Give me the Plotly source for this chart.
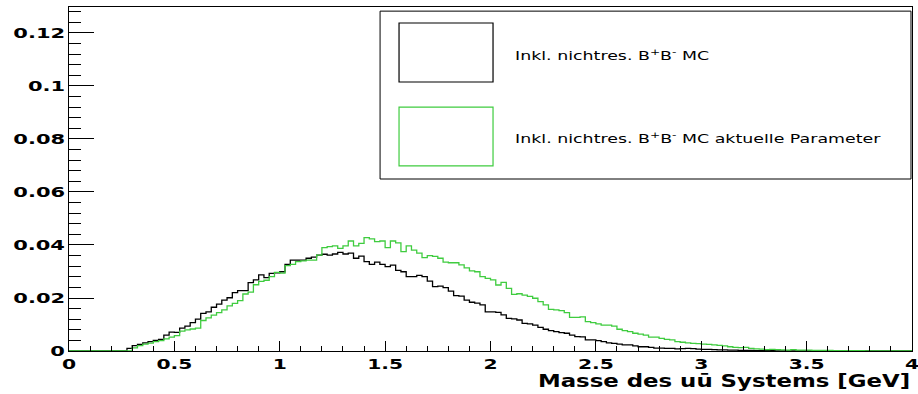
import numpy as np
import plotly.graph_objects as go

# histogram binning: 160 bins from 0 to 4 GeV
x_lo = 0.0
x_hi = 4.0
n_bins = 160

# Inkl. nichtres. B+B- MC (black)
black = [
    0, 0, 0, 0, 0, 0, 0, 0, 0, 0,
    0, 0.0010, 0.0020, 0.0025, 0.0031, 0.0035, 0.0040, 0.0044, 0.0060, 0.0071,
    0.0070, 0.0086, 0.0094, 0.0107, 0.0120, 0.0142, 0.0148, 0.0165, 0.0177, 0.0192,
    0.0201, 0.0220, 0.0228, 0.0228, 0.0258, 0.0268, 0.0287, 0.0277, 0.0293, 0.0295,
    0.0299, 0.0327, 0.0343, 0.0343, 0.0343, 0.0350, 0.0354, 0.0362, 0.0365, 0.0362,
    0.0366, 0.0372, 0.0366, 0.0369, 0.0350, 0.0358, 0.0337, 0.0327, 0.0335, 0.0327,
    0.0318, 0.0324, 0.0304, 0.0299, 0.0281, 0.0281, 0.0285, 0.0281, 0.0264, 0.0243,
    0.0245, 0.0239, 0.0226, 0.0209, 0.0207, 0.0192, 0.0184, 0.0181, 0.0174, 0.0148,
    0.0148, 0.0146, 0.0136, 0.0123, 0.0121, 0.0117, 0.0104, 0.0102, 0.0098, 0.0089,
    0.0082, 0.0077, 0.0073, 0.0069, 0.0067, 0.0060, 0.0054, 0.0053, 0.0042, 0.0042,
    0.0039, 0.0035, 0.0031, 0.0029, 0.0026, 0.0023, 0.0023, 0.0019, 0.0016, 0.0016,
    0.0014, 0.0011, 0.0011, 0.0010, 0.0010, 0.0008, 0.0009, 0.0010, 0.0009, 0.0007,
    0.0006, 0.0006, 0.0005, 0.0004, 0.0004, 0.0003, 0.0003, 0.0002, 0.0002, 0.0002,
    0.0001, 0.0001, 0.0001, 0.0001, 0.00005, 0.00005, 0.00005, 0.00005, 0.00005, 0.00005,
    0, 0, 0, 0, 0, 0, 0, 0, 0, 0,
    0, 0, 0, 0, 0, 0, 0, 0, 0, 0,
]

# Inkl. nichtres. B+B- MC aktuelle Parameter (green)
green = [
    0, 0, 0, 0, 0, 0, 0, 0, 0, 0,
    0, 0, 0.0012, 0.0020, 0.0026, 0.0030, 0.0035, 0.0039, 0.0046, 0.0052,
    0.0058, 0.0075, 0.0080, 0.0083, 0.0086, 0.0115, 0.0125, 0.0135, 0.0145, 0.0155,
    0.0170, 0.0180, 0.0190, 0.0215, 0.0222, 0.0250, 0.0263, 0.0267, 0.0281, 0.0297,
    0.0294, 0.0322, 0.0327, 0.0337, 0.0340, 0.0343, 0.0343, 0.0362, 0.0390, 0.0394,
    0.0397, 0.0387, 0.0397, 0.0415, 0.0397, 0.0406, 0.0428, 0.0423, 0.0413, 0.0415,
    0.0390, 0.0415, 0.0408, 0.0375, 0.0397, 0.0381, 0.0369, 0.0352, 0.0360, 0.0357,
    0.0350, 0.0335, 0.0333, 0.0333, 0.0325, 0.0314, 0.0302, 0.0299, 0.0281, 0.0274,
    0.0268, 0.0249, 0.0259, 0.0236, 0.0214, 0.0216, 0.0211, 0.0206, 0.0199, 0.0186,
    0.0174, 0.0157, 0.0155, 0.0152, 0.0145, 0.0127, 0.0127, 0.0129, 0.0111, 0.0107,
    0.0102, 0.0098, 0.0098, 0.0094, 0.0082, 0.0077, 0.0073, 0.0067, 0.0064, 0.0060,
    0.0052, 0.0052, 0.0048, 0.0044, 0.0042, 0.0035, 0.0033, 0.0031, 0.0029, 0.0028,
    0.0026, 0.0025, 0.0023, 0.0021, 0.0019, 0.0016, 0.0014, 0.0013, 0.0014, 0.0010,
    0.0008, 0.0007, 0.0005, 0.0006, 0.0005, 0.0004, 0.0003, 0.0005, 0.0003, 0.0003,
    0.0003, 0.0002, 0.0002, 0.0002, 0.0002, 0.0001, 0.0001, 0.0001, 0.0001, 0.0001,
    0.0001, 0, 0, 0, 0, 0, 0, 0, 0, 0,
]

labels = ["Inkl. nichtres. B<sup>+</sup>B<sup>-</sup> MC",
          "Inkl. nichtres. B<sup>+</sup>B<sup>-</sup> MC aktuelle Parameter"]
colors = ["#000000", "#3fcc3f"]
x_title = "Masse des uū Systems [GeV]"

edges = np.linspace(x_lo, x_hi, n_bins + 1)

fig = go.Figure()
for vals, col, name in [(black, colors[0], labels[0]), (green, colors[1], labels[1])]:
    fig.add_trace(go.Scatter(
        x=edges, y=list(vals) + [vals[-1]], mode="lines",
        line=dict(color=col, width=1.3, shape="hv"), name=name,
        showlegend=False, hoverinfo="skip"))

tick_font = dict(family="DejaVu Sans", size=14, color="black", weight="bold")

fig.update_layout(
    width=918, height=394,
    margin=dict(l=69, r=6, t=7, b=43, autoexpand=False),
    paper_bgcolor="white", plot_bgcolor="white",
    xaxis=dict(range=[x_lo, x_hi], tickmode="linear", tick0=0, dtick=0.5,
               ticks="inside", ticklen=10, tickwidth=1, tickcolor="black",
               minor=dict(dtick=0.1, ticks="inside", ticklen=5, tickcolor="black", tickwidth=1),
               showline=True, linecolor="black", linewidth=1.2, mirror=True,
               showgrid=False, zeroline=False, tickfont=tick_font, automargin=False),
    yaxis=dict(range=[0, 0.1298], tickmode="linear", tick0=0, dtick=0.02,
               ticks="inside", ticklen=25, tickwidth=1, tickcolor="black",
               minor=dict(dtick=0.004, ticks="inside", ticklen=12, tickcolor="black", tickwidth=1),
               showline=True, linecolor="black", linewidth=1.2, mirror=True,
               showgrid=False, zeroline=False, tickfont=tick_font, automargin=False),
)

# axis title (right aligned, ROOT style)
fig.add_annotation(x=1.0, y=-0.087, xref="paper", yref="paper", text=x_title,
                   showarrow=False, xanchor="right", yanchor="middle",
                   font=dict(family="DejaVu Sans", size=18, color="black", weight="bold"))

# legend box drawn as shapes
fig.add_shape(type="rect", xref="paper", yref="paper", x0=0.369, x1=0.9988, y0=0.500, y1=0.988,
              line=dict(color="black", width=1), fillcolor="white", layer="above")
swatches = [(0.9535, 0.782), (0.709, 0.538)]
text_y = [0.860, 0.619]
for (ytop, ybot), col, name, ty in zip(swatches, colors, labels, text_y):
    fig.add_shape(type="rect", xref="paper", yref="paper", x0=0.3915, x1=0.503, y0=ybot, y1=ytop,
                  line=dict(color=col, width=1.2), fillcolor="rgba(0,0,0,0)", layer="above")
    fig.add_annotation(x=0.5267, y=ty, xref="paper", yref="paper", text=name, showarrow=False,
                       xanchor="left", yanchor="middle",
                       font=dict(family="DejaVu Sans", size=12, color="black"))

# ROOT output appears horizontally stretched; widen the text glyphs to match
post = """
var gd = document.getElementById('{plot_id}');
function stretchText(t, S, mode) {
  var bb = t.getBBox();
  var ax = mode === 'left' ? bb.x : (mode === 'right' ? bb.x + bb.width : bb.x + bb.width / 2);
  var tr = t.getAttribute('transform') || '';
  t.setAttribute('transform', tr + ' translate(' + ax + ',0) scale(' + S + ',1) translate(' + (-ax) + ',0)');
}
gd.querySelectorAll('g.ytick text').forEach(function (t) { stretchText(t, 1.5, 'right'); });
gd.querySelectorAll('g.xtick text').forEach(function (t) { stretchText(t, 1.45, 'center'); });
gd.querySelectorAll('g.annotation').forEach(function (g) {
  var i = parseInt(g.getAttribute('data-index'));
  var a = gd.layout.annotations[i];
  var t = g.querySelector('text');
  if (t) { stretchText(t, a.xanchor === 'right' ? 1.27 : 1.45, a.xanchor); }
});
"""

fig.write_html("out.html", post_script=post)
